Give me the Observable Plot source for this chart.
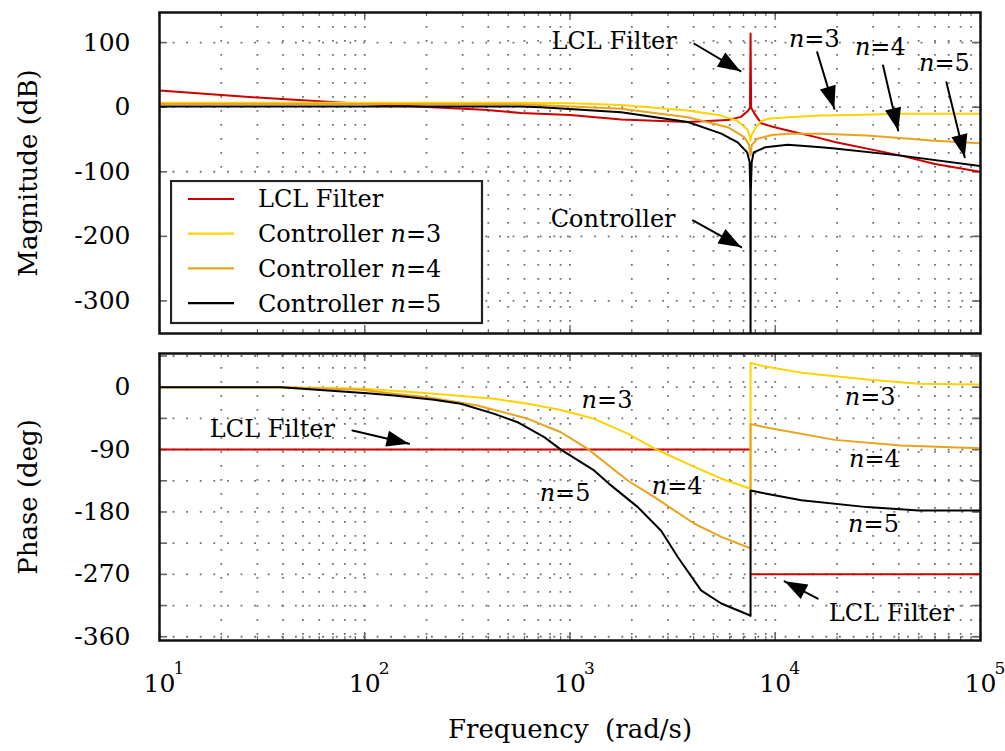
<!DOCTYPE html>
<html><head><meta charset="utf-8">
<script src="https://cdn.jsdelivr.net/npm/d3@7"></script>
<script src="https://cdn.jsdelivr.net/npm/@observablehq/plot@0.6"></script>
<style>
html,body{margin:0;padding:0;background:#fff;overflow:hidden;}
#wrap{position:relative;width:1005px;height:751px;}
#wrap svg.plot{display:block;}
#legend{position:absolute;left:170px;top:180px;}
</style></head><body><div id="wrap"></div>
<script>
// ---------- data ----------
const xDomain = [10, 1e5];
const decadeTicks = [10, 100, 1000, 10000, 100000];
const decadeExponents = ["1", "2", "3", "4", "5"];
const magTicks = [100, 0, -100, -200, -300];
const magDomain = [-350.4, 146.6];
const phaseTicks = [0, -90, -180, -270, -360];
const phaseGrid = [45, 0, -45, -90, -135, -180, -225, -270, -315, -360];
const phaseDomain = [-365.4, 48.6];

const seriesNames = ["LCL Filter", "Controller n=3", "Controller n=4", "Controller n=5"];
const seriesColors = ["#cc0000", "#ffd200", "#eba21e", "#000000"];

// magnitude (dB) : [frequency rad/s, value]
const magLCL = [[10,26],[30,15],[100,5],[380,-4],[577,-9],[1000,-12],[1775,-19],[3750,-23],[5870,-20],[6800,-15],[7350,-6],[7530,-1],[7580,114],[7630,-1],[7930,-10],[8550,-25],[9620,-30],[11500,-36],[15600,-46],[19500,-54],[41000,-75],[60000,-88],[100000,-100]];
const magN3 = [[10,7],[100,7],[577,7],[1000,6],[1775,3.5],[3750,-5],[5460,-13],[6530,-21],[7300,-34],[7500,-44],[7580,-52],[7660,-44],[7930,-34],[8500,-22],[9220,-18],[11500,-15.5],[16700,-13],[23400,-12],[41000,-10],[100000,-10]];
const magN4 = [[10,5],[100,5],[577,4.5],[1775,-2.6],[3750,-15.5],[5870,-31],[7030,-46],[7450,-58],[7580,-75],[7700,-58],[8200,-49],[9620,-43],[11500,-41],[16700,-41],[28000,-44],[60000,-52],[100000,-56]];
const magN5 = [[10,1],[100,1],[577,1],[724,0],[1775,-7.7],[3750,-23],[5460,-41],[6530,-54],[7300,-70],[7500,-85],[7560,-130],[7580,-350],[7600,-130],[7680,-85],[7850,-70],[8950,-62],[11500,-58],[16700,-62],[19500,-64],[41000,-75],[100000,-91]];

// phase (deg)
const phLCLlow = [[10,-90],[7580,-90]];
const phLCLhigh = [[7580,-270],[100000,-270]];
const phN3 = [[10,0],[39,0],[100,-2.4],[203,-8.6],[428,-16.8],[624,-24],[903,-33],[1310,-45.6],[1910,-67],[2680,-91],[4040,-115],[5460,-132],[7360,-145],[7580,-146],[7580,35],[9200,29],[13400,21],[28000,11],[50000,5],[100000,4]];
const phN4 = [[10,0],[39,0],[96,-3.8],[139,-9.6],[203,-14.4],[354,-26.4],[624,-45.6],[903,-65],[1220,-89],[1910,-134.6],[2580,-158.7],[4040,-197],[5460,-216],[7500,-232],[7580,-233],[7580,-53],[9200,-58.6],[19500,-76],[41000,-84],[100000,-88]];
const phN5 = [[10,0],[39,0],[66,-4.8],[103,-8.6],[139,-12],[218,-18],[294,-24],[428,-38.5],[555,-50.5],[749,-72],[903,-90],[1310,-120],[1590,-142],[2140,-173],[2780,-207],[3350,-245],[4350,-293],[5460,-312],[6330,-320],[7500,-329],[7580,-330],[7580,-149],[9200,-154],[13400,-163],[28000,-173],[50000,-178],[100000,-178]];

// annotations: [frequency, value, text]
const magLabels = [[1641,101.7,"LCL Filter"],[15500,104.8,"n=3"],[32500,92.4,"n=4"],[66700,67.7,"n=5"],[1623,-173,"Controller"]];
const magArrows = [[4035,98.2,6770,55.7],[16000,85.2,19400,-2.5],[33500,64.6,39700,-36.1],[68200,38.7,83800,-77.4],[3970,-175.4,6825,-216.8]];
const phaseLabels = [[35.5,-61,"LCL Filter"],[1514,-18.5,"n=3"],[3325,-143,"n=4"],[946,-153,"n=5"],[29000,-14.9,"n=3"],[30400,-104.3,"n=4"],[30100,-198,"n=5"],[36800,-326.5,"LCL Filter"]];
const phaseArrows = [[87.1,-62.5,164.4,-81.6],[16100,-305,11100,-280]];

// ---------- layout ----------
const W = 1005, ML = 159, MR = 25;
const FW = W - ML - MR;
const FONT = "DejaVu Serif";
const minorX = [];
for (const d of decadeTicks.slice(0, -1)) for (let k = 1; k <= 9; k++) minorX.push(d * k);
minorX.push(1e5);

function headStart(a) { // extend arrow start backward so the head is not capped by shaft length
  const k = 4;
  return [a[2] * Math.pow(a[0] / a[2], k), a[3] + (a[1] - a[3]) * k];
}

function panel({height, mt, mb, yDomain, series, yTicks, yGrid, yLabel, labels, arrows, bottomAxis}) {
  const FH = height - mt - mb;
  const marks = [
    Plot.ruleX(minorX, {x: d => d, stroke: "#707070", strokeWidth: 1.8, strokeDasharray: "1.8,12.2"}),
    Plot.ruleY(yGrid, {y: d => d, stroke: "#707070", strokeWidth: 1.8, strokeDasharray: "1.8,11.8"}),
    Plot.ruleX(minorX, {x: d => d, stroke: "#666", strokeWidth: 1.2, insetBottom: FH - 4}),
    Plot.ruleX(minorX, {x: d => d, stroke: "#666", strokeWidth: 1.2, insetTop: FH - 4}),
    Plot.ruleX(decadeTicks, {x: d => d, stroke: "#666", strokeWidth: 1.4, insetBottom: FH - 8}),
    Plot.ruleX(decadeTicks, {x: d => d, stroke: "#666", strokeWidth: 1.4, insetTop: FH - 8}),
    Plot.ruleY(yGrid, {y: d => d, stroke: "#666", strokeWidth: 1.6, insetRight: FW - 8}),
    Plot.ruleY(yGrid, {y: d => d, stroke: "#666", strokeWidth: 1.6, insetLeft: FW - 8}),
  ];
  series.forEach(([data, color]) => {
    marks.push(Plot.line(data, {x: d => d[0], y: d => d[1], stroke: color, strokeWidth: 2, clip: true}));
  });
  marks.push(
    Plot.arrow(arrows, {x1: d => d[0], y1: d => d[1], x2: d => d[2], y2: d => d[3], stroke: "black", strokeWidth: 2, headLength: 0}),
    Plot.arrow(arrows, {x1: d => headStart(d)[0], y1: d => headStart(d)[1], x2: d => d[2], y2: d => d[3], stroke: "none", fill: "black", strokeWidth: 1.5, headLength: 24, headAngle: 40}),
    Plot.text(labels, {x: d => d[0], y: d => d[1], text: d => d[2], fontSize: 24, fill: "black"}),
    Plot.text(yTicks, {y: d => d, frameAnchor: "left", dx: -29, textAnchor: "end", text: d => String(d), fontSize: 25, fill: "black"}),
    Plot.text([yLabel], {frameAnchor: "left", dx: -131, rotate: -90, textAnchor: "middle", text: d => d, fontSize: 26, fill: "black"}),
    Plot.frame({stroke: "#111", strokeWidth: 2.5})
  );
  if (bottomAxis) {
    marks.push(
      Plot.text(decadeTicks, {x: d => d, frameAnchor: "bottom", dy: 51, text: () => "10", fontSize: 25, fill: "black"}),
      Plot.text(decadeTicks, {x: d => d, frameAnchor: "bottom", dy: 33, dx: 14, textAnchor: "start", text: (d, i) => decadeExponents[i], fontSize: 17, fill: "black"}),
      Plot.text(["Frequency\u00a0 (rad/s)"], {frameAnchor: "bottom", dy: 97, text: d => d, fontSize: 26, fill: "black"})
    );
  }
  return Plot.plot({
    width: W, height, marginLeft: ML, marginRight: MR, marginTop: mt, marginBottom: mb,
    style: {fontFamily: FONT, background: "white", overflow: "visible"},
    x: {type: "log", domain: xDomain, axis: null},
    y: {domain: yDomain, axis: null},
    marks
  });
}

const topPlot = panel({
  height: 340, mt: 12, mb: 7, yDomain: magDomain,
  series: [[magLCL, seriesColors[0]], [magN3, seriesColors[1]], [magN4, seriesColors[2]], [magN5, seriesColors[3]]],
  yTicks: magTicks, yGrid: magTicks, yLabel: "Magnitude (dB)", labels: magLabels, arrows: magArrows, bottomAxis: false
});
const bottomPlot = panel({
  height: 411, mt: 13, mb: 111, yDomain: phaseDomain,
  series: [[phLCLlow, seriesColors[0]], [phLCLhigh, seriesColors[0]], [phN3, seriesColors[1]], [phN4, seriesColors[2]], [phN5, seriesColors[3]]],
  yTicks: phaseTicks, yGrid: phaseGrid, yLabel: "Phase (deg)", labels: phaseLabels, arrows: phaseArrows, bottomAxis: true
});

const wrap = document.getElementById("wrap");
wrap.appendChild(topPlot);
wrap.appendChild(bottomPlot);

const NS = "http://www.w3.org/2000/svg";
function italicN(root) {
  d3.select(root).selectAll("text").each(function () {
    if (this.querySelector("tspan")) return;
    const m = this.textContent.match(/^(.*?)n=(\d)$/);
    if (!m) return;
    this.textContent = "";
    if (m[1]) this.appendChild(document.createTextNode(m[1]));
    const t = document.createElementNS(NS, "tspan");
    t.setAttribute("font-style", "italic");
    t.textContent = "n";
    this.appendChild(t);
    this.appendChild(document.createTextNode("=" + m[2]));
  });
}
italicN(topPlot); italicN(bottomPlot);

const lg = d3.select(wrap).append("svg").attr("id", "legend").attr("width", 314).attr("height", 145)
  .style("font-family", FONT);
lg.append("rect").attr("x", 1).attr("y", 1).attr("width", 311).attr("height", 142)
  .attr("fill", "white").attr("stroke", "#222").attr("stroke-width", 2.2);
seriesNames.forEach((name, i) => {
  const cy = 19 + i * 34.7;
  lg.append("line").attr("x1", 18).attr("x2", 64).attr("y1", cy).attr("y2", cy)
    .attr("stroke", seriesColors[i]).attr("stroke-width", 2.2);
  lg.append("text").attr("x", 88).attr("y", cy).attr("dy", "0.35em").attr("font-size", 24).attr("fill", "black").text(name);
});
italicN(lg.node());
</script></body></html>
